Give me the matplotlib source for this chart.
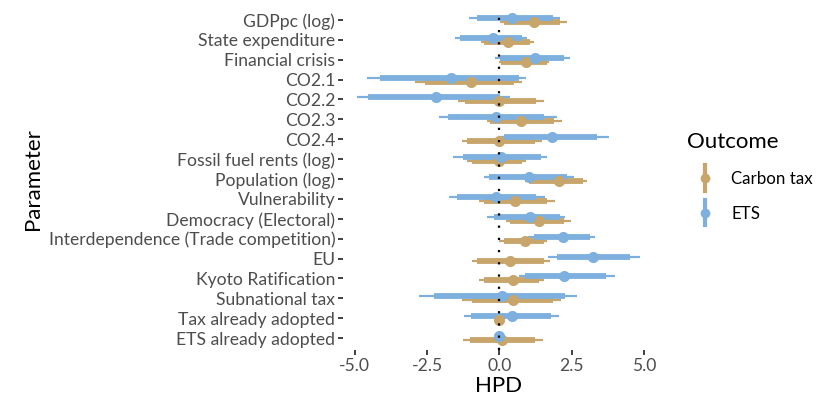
import matplotlib.pyplot as plt
import numpy as np
from matplotlib.lines import Line2D
from matplotlib.legend_handler import HandlerBase

plt.rcParams['font.family'] = ['Lato', 'DejaVu Sans']

params = ["GDPpc (log)", "State expenditure", "Financial crisis", "CO2.1", "CO2.2",
          "CO2.3", "CO2.4", "Fossil fuel rents (log)", "Population (log)", "Vulnerability",
          "Democracy (Electoral)", "Interdependence (Trade competition)", "EU",
          "Kyoto Ratification", "Subnational tax", "Tax already adopted", "ETS already adopted"]

# ETS: median, inner (thick) interval, outer (thin) interval
ets_mid = [0.44, -0.22, 1.25, -1.67, -2.20, -0.13, 1.82, 0.07, 1.01, -0.13, 1.07, 2.20, 3.24, 2.23, 0.09, 0.44, -0.02]
ets_lo_in = [-0.77, -1.35, 0.03, -4.12, -4.54, -1.79, 0.15, -1.27, -0.35, -1.46, -0.17, 1.19, 2.00, 0.87, -2.25, -0.98, -0.08]
ets_hi_in = [1.86, 0.78, 2.23, 0.67, 0.03, 1.53, 3.38, 1.44, 2.34, 1.28, 2.09, 3.15, 4.53, 3.70, 2.28, 1.79, 0.05]
ets_lo_out = [-1.04, -1.52, -0.14, -4.58, -4.92, -2.10, -0.05, -1.60, -0.52, -1.75, -0.43, 1.00, 1.67, 0.67, -2.79, -1.23, -0.12]
ets_hi_out = [2.09, 0.96, 2.46, 0.93, 0.38, 2.00, 3.78, 1.65, 2.57, 1.59, 2.28, 3.32, 4.86, 4.01, 2.69, 2.05, 0.09]

# Carbon tax
tax_mid = [1.19, 0.29, 0.93, -0.98, -0.02, 0.75, 0.00, 0.00, 2.05, 0.55, 1.36, 0.90, 0.38, 0.47, 0.47, 0.00, 0.09]
tax_lo_in = [0.15, -0.54, 0.06, -2.56, -1.18, -0.31, -1.12, -0.95, 1.01, -0.54, 0.38, 0.15, -0.77, -0.52, -0.95, -0.06, -1.03]
tax_hi_in = [2.11, 1.07, 1.65, 0.50, 1.28, 1.88, 1.25, 0.78, 2.89, 1.65, 2.23, 1.53, 1.53, 1.36, 1.86, 0.06, 1.25]
tax_lo_out = [0.01, -0.63, -0.02, -2.91, -1.43, -0.43, -1.31, -1.12, 0.90, -0.69, 0.24, -0.02, -0.95, -0.69, -1.29, -0.10, -1.26]
tax_hi_out = [2.34, 1.19, 1.70, 0.78, 1.53, 2.17, 1.48, 0.93, 3.03, 1.91, 2.48, 1.65, 1.76, 1.53, 2.13, 0.10, 1.50]

c_tax = "#C8A56A"
c_ets = "#7DB0DE"

fig = plt.figure(figsize=(8.18, 4.03), dpi=100)
ax = fig.add_axes([343 / 818, 1 - 350 / 403, (654 - 343) / 818, (350 - 8) / 403])

n = len(params)
y = np.arange(n)[::-1].astype(float)
dodge = 0.1


def draw_series(yy, mid, lo_in, hi_in, lo_out, hi_out, col):
    ax.hlines(yy, lo_out, hi_out, color=col, lw=1.6, zorder=2)
    ax.hlines(yy, lo_in, hi_in, color=col, lw=4.2, zorder=3)
    ax.plot(mid, yy, 'o', color=col, ms=8, mec='none', zorder=4)


draw_series(y - dodge, tax_mid, tax_lo_in, tax_hi_in, tax_lo_out, tax_hi_out, c_tax)
draw_series(y + dodge, ets_mid, ets_lo_in, ets_hi_in, ets_lo_out, ets_hi_out, c_ets)

ax.axvline(0, color="black", ls=(0, (1, 4.5)), lw=1.6, zorder=5)

ax.set_xlim(-5.41, 5.35)
ax.set_ylim(-0.6, n - 1 + 0.6)
ax.set_yticks(y)
ax.set_yticklabels(params)
ax.set_xticks([-5, -2.5, 0, 2.5, 5])
ax.set_xticklabels(["-5.0", "-2.5", "0.0", "2.5", "5.0"])
ax.tick_params(axis='both', colors="#333333", labelcolor="#4D4D4D", labelsize=12.6,
               length=3.5, width=1.3, pad=2)
for s in ax.spines.values():
    s.set_visible(False)
ax.set_xlabel("HPD", fontsize=16, color="black", labelpad=2)
ax.set_ylabel("Parameter", fontsize=16, color="black", labelpad=4)


class PointRange(HandlerBase):
    def create_artists(self, legend, orig_handle, xd, yd, width, height, fontsize, trans):
        col = orig_handle.get_color()
        cx = xd + width / 2
        vline = Line2D([cx, cx], [yd - 5, yd + height + 5], color=col, lw=3, transform=trans)
        pt = Line2D([cx], [yd + height / 2], marker='o', color=col, ms=7, mec='none', transform=trans)
        return [vline, pt]


handles = [Line2D([], [], color=c_tax), Line2D([], [], color=c_ets)]
leg = fig.legend(handles, ["Carbon tax", "ETS"], title="Outcome", loc="upper left",
                 bbox_to_anchor=(672 / 818, 1 - 117 / 403), frameon=False,
                 handler_map={Line2D: PointRange()}, fontsize=12.2, title_fontsize=16,
                 handlelength=2.1, handletextpad=0.5, labelspacing=1.1)
leg._legend_box.align = "left"

fig.savefig("out.png", dpi=100)
